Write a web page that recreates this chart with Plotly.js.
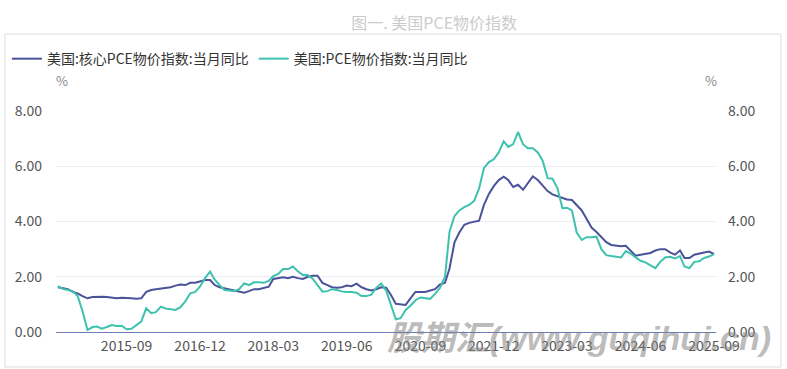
<!DOCTYPE html>
<html>
<head>
<meta charset="utf-8">
<script src="https://cdn.plot.ly/plotly-3.0.1.min.js"></script>
<style>html,body{margin:0;padding:0;background:#fff;}#chart{width:787px;height:369px;}</style>
</head>
<body>
<div id="chart"></div>
<script>
var months = [
 '2014-07','2014-08','2014-09','2014-10','2014-11','2014-12',
 '2015-01','2015-02','2015-03','2015-04','2015-05','2015-06','2015-07','2015-08','2015-09','2015-10','2015-11','2015-12',
 '2016-01','2016-02','2016-03','2016-04','2016-05','2016-06','2016-07','2016-08','2016-09','2016-10','2016-11','2016-12',
 '2017-01','2017-02','2017-03','2017-04','2017-05','2017-06','2017-07','2017-08','2017-09','2017-10','2017-11','2017-12',
 '2018-01','2018-02','2018-03','2018-04','2018-05','2018-06','2018-07','2018-08','2018-09','2018-10','2018-11','2018-12',
 '2019-01','2019-02','2019-03','2019-04','2019-05','2019-06','2019-07','2019-08','2019-09','2019-10','2019-11','2019-12',
 '2020-01','2020-02','2020-03','2020-04','2020-05','2020-06','2020-07','2020-08','2020-09','2020-10','2020-11','2020-12',
 '2021-01','2021-02','2021-03','2021-04','2021-05','2021-06','2021-07','2021-08','2021-09','2021-10','2021-11','2021-12',
 '2022-01','2022-02','2022-03','2022-04','2022-05','2022-06','2022-07','2022-08','2022-09','2022-10','2022-11','2022-12',
 '2023-01','2023-02','2023-03','2023-04','2023-05','2023-06','2023-07','2023-08','2023-09','2023-10','2023-11','2023-12',
 '2024-01','2024-02','2024-03','2024-04','2024-05','2024-06','2024-07','2024-08','2024-09','2024-10','2024-11','2024-12',
 '2025-01','2025-02','2025-03','2025-04','2025-05','2025-06','2025-07','2025-08','2025-09'
];

// 美国:核心PCE物价指数:当月同比 (%)
var corePCE = [
 1.62,1.58,1.55,1.45,1.40,1.30,
 1.22,1.27,1.28,1.28,1.27,1.25,1.22,1.24,1.24,1.22,1.20,1.22,
 1.45,1.52,1.55,1.58,1.60,1.62,1.68,1.72,1.70,1.78,1.78,1.82,
 1.88,1.88,1.70,1.62,1.58,1.55,1.50,1.45,1.42,1.48,1.55,1.55,
 1.60,1.64,1.92,1.95,1.98,1.95,2.00,1.95,1.92,2.00,2.04,2.04,
 1.78,1.70,1.62,1.60,1.62,1.68,1.66,1.75,1.62,1.55,1.50,1.55,
 1.62,1.60,1.35,1.02,1.00,0.98,1.22,1.45,1.45,1.45,1.50,1.55,
 1.72,1.78,2.30,3.25,3.60,3.88,3.95,4.00,4.03,4.60,5.00,5.28,
 5.50,5.62,5.50,5.25,5.33,5.15,5.38,5.63,5.50,5.30,5.10,4.98,
 4.92,4.88,4.80,4.78,4.60,4.40,4.10,3.78,3.62,3.45,3.25,3.15,
 3.12,3.10,3.12,2.95,2.76,2.80,2.83,2.86,2.95,3.00,3.00,2.88,
 2.80,2.95,2.68,2.68,2.80,2.85,2.88,2.91,2.82
];

// 美国:PCE物价指数:当月同比 (%)
var headlinePCE = [
 1.66,1.56,1.52,1.48,1.30,0.75,
 0.07,0.18,0.20,0.12,0.18,0.25,0.22,0.23,0.10,0.12,0.25,0.38,
 0.86,0.68,0.72,0.92,0.85,0.83,0.80,0.90,1.12,1.40,1.45,1.65,
 1.95,2.19,1.90,1.70,1.52,1.50,1.48,1.55,1.76,1.70,1.80,1.80,
 1.78,1.85,2.02,2.10,2.28,2.28,2.37,2.20,2.06,2.06,1.93,1.70,
 1.46,1.48,1.55,1.52,1.47,1.45,1.45,1.42,1.30,1.30,1.35,1.60,
 1.76,1.50,1.00,0.46,0.50,0.80,0.95,1.15,1.25,1.22,1.20,1.38,
 1.60,2.00,3.63,4.20,4.40,4.52,4.60,4.75,5.20,5.93,6.15,6.25,
 6.50,6.90,6.70,6.80,7.24,6.80,6.65,6.65,6.50,6.20,5.57,5.55,
 5.21,4.48,4.50,4.40,3.60,3.33,3.43,3.43,3.45,3.00,2.78,2.75,
 2.73,2.70,2.93,2.84,2.70,2.58,2.52,2.40,2.31,2.54,2.70,2.72,
 2.66,2.75,2.37,2.31,2.54,2.56,2.68,2.73,2.82
];

var tickMonths = ['2015-09','2016-12','2018-03','2019-06','2020-09','2021-12','2023-03','2024-06','2025-09'];
var yTicks = [0, 2, 4, 6, 8];
var seriesNames = ['美国:核心PCE物价指数:当月同比', '美国:PCE物价指数:当月同比'];

var CJK = '"Noto Sans CJK SC", "Noto Sans", sans-serif';

var traces = [
  {x: months, y: corePCE, name: seriesNames[0], type: 'scatter', mode: 'lines',
   line: {color: '#4a5399', width: 2}, yaxis: 'y'},
  {x: months, y: headlinePCE, name: seriesNames[1], type: 'scatter', mode: 'lines',
   line: {color: '#3ec2ae', width: 2}, yaxis: 'y2'}
];

var yAxisCommon = {
  range: [0, 8], tickvals: yTicks, tickformat: '.2f',
  showgrid: true, gridcolor: '#ececf3', gridwidth: 1,
  zeroline: false, showline: false, ticks: '',
  tickfont: {family: CJK, size: 14, color: '#555'},
  fixedrange: true
};

var layout = {
  width: 787, height: 369,
  margin: {l: 56, r: 71, t: 111, b: 37, pad: 0, autoexpand: false},
  paper_bgcolor: '#ffffff', plot_bgcolor: '#ffffff',
  font: {family: CJK, color: '#333'},
  title: {text: '图一. 美国PCE物价指数', xref: 'paper', x: 0.573, xanchor: 'center',
          yref: 'container', y: 0.937, yanchor: 'middle',
          font: {family: CJK, size: 16, color: '#cbcbcb'}},
  showlegend: true,
  legend: {orientation: 'h', x: -0.0744, xanchor: 'left', y: 1.235, yanchor: 'middle',
           font: {family: CJK, size: 14, color: '#333'}, bgcolor: 'rgba(0,0,0,0)',
           traceorder: 'normal'},
  xaxis: {
    type: 'date', range: ['2014-06-19', '2025-09-13'],
    tickvals: tickMonths, ticktext: tickMonths,
    showgrid: false, zeroline: false, showline: true, linecolor: '#6f7bb8', linewidth: 1,
    ticks: '', ticklabelstandoff: 1,
    tickfont: {family: CJK, size: 14, color: '#555'}
  },
  yaxis: Object.assign({side: 'left', ticklabelstandoff: 13}, yAxisCommon),
  yaxis2: Object.assign({side: 'right', overlaying: 'y', ticklabelstandoff: 11}, yAxisCommon, {showgrid: false}),
  shapes: [
    {type: 'rect', xref: 'paper', yref: 'paper', x0: -0.0773, x1: 1.0985, y0: -0.1584, y1: 1.3484,
     line: {color: '#dddddd', width: 1}, fillcolor: 'rgba(0,0,0,0)', layer: 'below'}
  ],
  annotations: [
    {text: '%', xref: 'paper', yref: 'paper', x: 0.009, y: 1.14, showarrow: false,
     xanchor: 'center', yanchor: 'middle', font: {family: CJK, size: 13, color: '#888'}},
    {text: '%', xref: 'paper', yref: 'paper', x: 0.992, y: 1.14, showarrow: false,
     xanchor: 'center', yanchor: 'middle', font: {family: CJK, size: 13, color: '#888'}},
    {text: '<b><i>股期汇(www.guqihui.cn)</i></b>', xref: 'paper', yref: 'paper', x: 0.792, y: -0.027,
     showarrow: false, xanchor: 'center', yanchor: 'middle',
     font: {family: '"Liberation Sans", "Noto Sans CJK SC", sans-serif', size: 34, color: 'rgba(130,130,130,0.55)'}}
  ]
};

Plotly.newPlot('chart', traces, layout, {staticPlot: true, displayModeBar: false});
</script>
</body>
</html>
